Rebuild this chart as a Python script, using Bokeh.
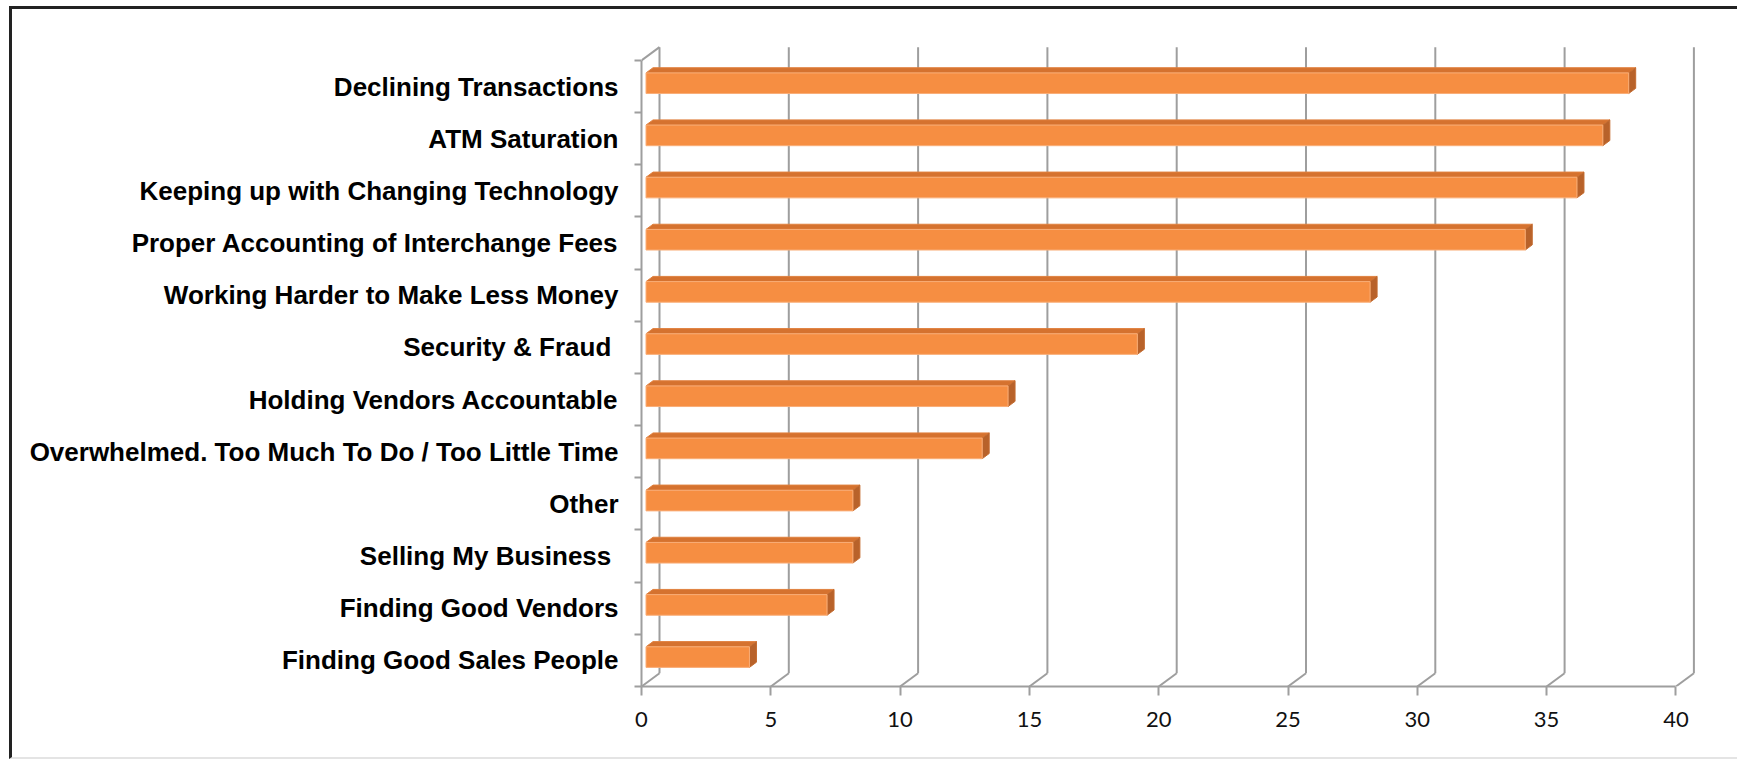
from bokeh.plotting import figure
from bokeh.models import FixedTicker, Range1d, InlineStyleSheet
from bokeh.embed import file_html
from bokeh.resources import INLINE

# ---- data ----
categories = [
    "Declining Transactions",
    "ATM Saturation",
    "Keeping up with Changing Technology",
    "Proper Accounting of Interchange Fees",
    "Working Harder to Make Less Money",
    "Security & Fraud ",
    "Holding Vendors Accountable",
    "Overwhelmed. Too Much To Do / Too Little Time",
    "Other",
    "Selling My Business ",
    "Finding Good Vendors",
    "Finding Good Sales People",
]
values = [38, 37, 36, 34, 28, 19, 14, 13, 8, 8, 7, 4]
x_ticks = [0, 5, 10, 15, 20, 25, 30, 35, 40]

# ---- layout geometry (pixels) ----
W, H = 1737, 783
FRAME_L, FRAME_R, FRAME_T, FRAME_B = 641, 1712, 40, 686
PX_X = 25.86          # pixels per value unit
PX_Y = 52.17          # pixels per category
n = len(categories)

x_end = (FRAME_R - FRAME_L) / PX_X
y_end = (FRAME_B - FRAME_T) / PX_Y

DX = 18.0 / PX_X      # 3D depth offset (back wall) in data units
DY = 13.3 / PX_Y
F1, F2 = 0.25, 0.64   # bar front/back depth fractions
HALF = 10.3 / PX_Y    # half bar height

GRID = "#9E9E9E"
FRONT = "#F68E42"
TOP = "#D5722F"
SIDE = "#B8622A"

p = figure(width=W, height=H, x_range=Range1d(0, x_end), y_range=Range1d(0, y_end),
           output_backend="svg", toolbar_location=None, title=None,
           min_border_left=FRAME_L, min_border_right=W - FRAME_R,
           min_border_top=FRAME_T, min_border_bottom=H - FRAME_B)
p.outline_line_color = None
p.xgrid.visible = False
p.ygrid.visible = False
p.background_fill_color = "white"
p.border_fill_color = "white"

# page frame lines (dark top/left rule, light bottom rule)
p.stylesheets = [InlineStyleSheet(css="""
:host { position: relative; }
:host::after {
  content: ""; position: absolute; left: 9px; top: 6px; right: 0px; height: 748px;
  border-top: 3px solid #222222; border-left: 3px solid #222222;
  border-bottom: 2px solid #E4E4E4; pointer-events: none; z-index: 10;
}
""")]

# ---- back wall gridlines and floor diagonals ----
gx0, gy0, gx1, gy1 = [], [], [], []
for t in x_ticks:
    gx0 += [t + DX, t]
    gy0 += [DY, 0]
    gx1 += [t + DX, t + DX]
    gy1 += [n + DY, DY]
gx0.append(0); gy0.append(n); gx1.append(DX); gy1.append(n + DY)
p.segment(x0=gx0, y0=gy0, x1=gx1, y1=gy1, line_color=GRID, line_width=2)

# ---- 3D bars ----
centers = [n - i - 0.5 for i in range(n)]
fl, fr, fb, ft = [], [], [], []
txs, tys, sxs, sys_ = [], [], [], []
dd_x = (F2 - F1) * DX
dd_y = (F2 - F1) * DY
for v, c in zip(values, centers):
    left = F1 * DX
    right = v + F1 * DX
    bot = c - HALF + F1 * DY
    top = c + HALF + F1 * DY
    fl.append(left); fr.append(right); fb.append(bot); ft.append(top)
    txs.append([left, right, right + dd_x, left + dd_x])
    tys.append([top, top, top + dd_y, top + dd_y])
    sxs.append([right, right, right + dd_x, right + dd_x])
    sys_.append([bot, top, top + dd_y, bot + dd_y])

p.patches(xs=txs, ys=tys, fill_color=TOP, line_color="#E0813F", line_width=1)
p.patches(xs=sxs, ys=sys_, fill_color=SIDE, line_color="#C46C30", line_width=1)
p.quad(left=fl, right=fr, bottom=fb, top=ft, fill_color=FRONT,
       line_color="#F9AE78", line_width=1)

# ---- axes ----
xa = p.xaxis[0]
xa.ticker = FixedTicker(ticks=x_ticks)
xa.bounds = (0, 40)
xa.axis_line_color = GRID
xa.axis_line_width = 2
xa.major_tick_line_color = GRID
xa.major_tick_line_width = 2
xa.major_tick_out = 9
xa.major_tick_in = 0
xa.minor_tick_line_color = None
xa.major_label_text_font = "Lato"
xa.major_label_text_font_size = "22px"
xa.major_label_text_color = "#111111"
xa.major_label_standoff = 16

ya = p.yaxis[0]
ya.ticker = FixedTicker(ticks=centers, minor_ticks=list(range(n + 1)))
ya.bounds = (0, n)
ya.axis_line_color = GRID
ya.axis_line_width = 2
ya.major_tick_out = 0
ya.major_tick_in = 0
ya.major_tick_line_color = None
ya.minor_tick_out = 7
ya.minor_tick_in = 0
ya.minor_tick_line_color = GRID
ya.minor_tick_line_width = 2
ya.major_label_overrides = {c: lab for c, lab in zip(centers, categories)}
ya.major_label_text_font = "Liberation Sans"
ya.major_label_text_font_style = "bold"
ya.major_label_text_font_size = "26px"
ya.major_label_text_color = "#000000"
ya.major_label_standoff = 16

open("out.html", "w").write(file_html(p, INLINE))
